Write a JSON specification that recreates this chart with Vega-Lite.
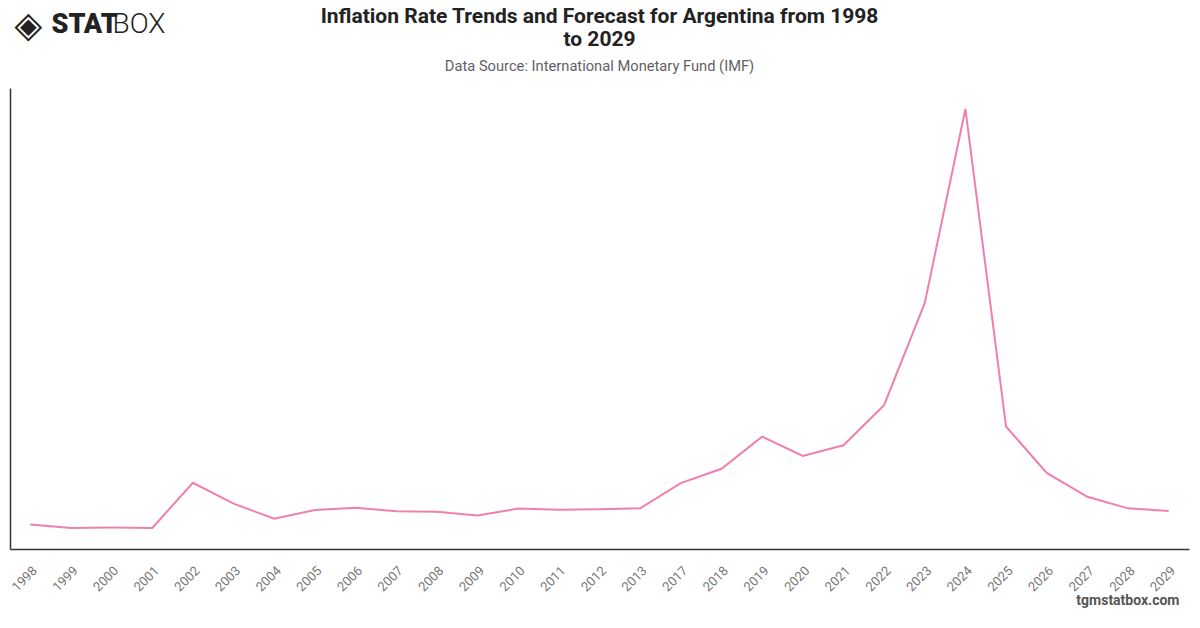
{
  "$schema": "https://vega.github.io/schema/vega-lite/v6.json",
  "width": 1179,
  "height": 461,
  "autosize": "none",
  "padding": {"left": 10, "top": 88, "right": 11, "bottom": 79},
  "background": "white",
  "config": {
    "view": {"stroke": null},
    "font": "Roboto"
  },
  "title": {
    "text": ["Inflation Rate Trends and Forecast for Argentina from 1998", "to 2029"],
    "subtitle": "Data Source: International Monetary Fund (IMF)",
    "anchor": "middle",
    "font": "Roboto",
    "fontSize": 21,
    "fontWeight": "bold",
    "color": "#222222",
    "lineHeight": 23,
    "subtitleFont": "Roboto",
    "subtitleFontSize": 14.7,
    "subtitleColor": "#5f5f66",
    "subtitlePadding": 9,
    "offset": -67
  },
  "data": {
    "values": [
      {"year": "1998", "inflation": 0.9},
      {"year": "1999", "inflation": -1.2},
      {"year": "2000", "inflation": -0.9},
      {"year": "2001", "inflation": -1.1},
      {"year": "2002", "inflation": 25.9},
      {"year": "2003", "inflation": 13.4},
      {"year": "2004", "inflation": 4.4},
      {"year": "2005", "inflation": 9.6},
      {"year": "2006", "inflation": 10.9},
      {"year": "2007", "inflation": 8.8},
      {"year": "2008", "inflation": 8.6},
      {"year": "2009", "inflation": 6.3},
      {"year": "2010", "inflation": 10.5},
      {"year": "2011", "inflation": 9.8},
      {"year": "2012", "inflation": 10.0},
      {"year": "2013", "inflation": 10.6},
      {"year": "2017", "inflation": 25.7},
      {"year": "2018", "inflation": 34.3},
      {"year": "2019", "inflation": 53.5},
      {"year": "2020", "inflation": 42.0},
      {"year": "2021", "inflation": 48.4},
      {"year": "2022", "inflation": 72.4},
      {"year": "2023", "inflation": 133.5},
      {"year": "2024", "inflation": 249.8},
      {"year": "2025", "inflation": 59.6},
      {"year": "2026", "inflation": 31.8},
      {"year": "2027", "inflation": 17.5},
      {"year": "2028", "inflation": 10.6},
      {"year": "2029", "inflation": 9.0}
    ]
  },
  "resolve": {"axis": {"y": "independent", "x": "independent"}},
  "layer": [
    {
      "mark": {"type": "line", "color": "#f07fae", "strokeWidth": 2},
      "encoding": {
        "x": {
          "field": "year",
          "type": "ordinal",
          "scale": {"type": "point", "padding": 0.5},
          "axis": {
            "title": "tgmstatbox.com",
            "titleFont": "Roboto",
            "titleFontSize": 14,
            "titleFontWeight": "bold",
            "titleColor": "#555555",
            "titleAnchor": "end",
            "titleAlign": "right",
            "titleBaseline": "alphabetic",
            "titleX": 1169,
            "titleY": 55,
            "labelAngle": -45,
            "labelFontSize": 13,
            "labelColor": "#777777",
            "labelPadding": 15,
            "ticks": false,
            "domainColor": "#333333",
            "domainWidth": 1.5,
            "grid": false
          }
        },
        "y": {
          "field": "inflation",
          "type": "quantitative",
          "scale": {"domain": [-13.75, 262.35], "nice": false, "zero": false},
          "axis": {
            "title": "STAT",
            "titleFont": "Roboto",
            "titleFontSize": 27,
            "titleFontWeight": 900,
            "titleColor": "#222222",
            "titleAngle": 0,
            "titleAlign": "left",
            "titleBaseline": "alphabetic",
            "titleX": 41,
            "titleY": -56,
            "labels": false,
            "ticks": false,
            "grid": false,
            "domainColor": "#333333",
            "domainWidth": 1.5
          }
        }
      }
    },
    {
      "mark": {"type": "line", "strokeOpacity": 0},
      "encoding": {
        "x": {
          "field": "year",
          "type": "ordinal",
          "axis": {
            "orient": "top",
            "title": "◈",
            "titleFont": "DejaVu Sans",
            "titleFontSize": 36,
            "titleFontWeight": "normal",
            "titleColor": "#222222",
            "titleAnchor": "start",
            "titleAlign": "left",
            "titleBaseline": "alphabetic",
            "titleX": 4,
            "titleY": -52,
            "labels": false,
            "ticks": false,
            "grid": false,
            "domain": false
          }
        },
        "y": {
          "field": "inflation",
          "type": "quantitative",
          "axis": {
            "orient": "right",
            "title": "BOX",
            "titleFont": "Roboto",
            "titleFontSize": 28,
            "titleFontWeight": 300,
            "titleColor": "#222222",
            "titleAngle": 0,
            "titleAlign": "left",
            "titleBaseline": "alphabetic",
            "titleX": -1077,
            "titleY": -56,
            "labels": false,
            "ticks": false,
            "grid": false,
            "domain": false
          }
        }
      }
    }
  ]
}
